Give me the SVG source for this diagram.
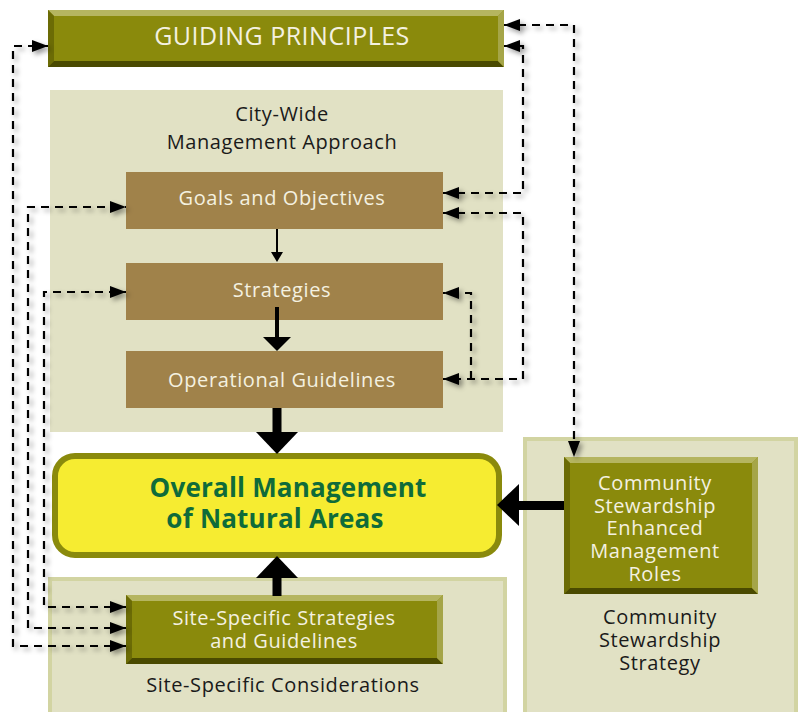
<svg xmlns="http://www.w3.org/2000/svg" width="802" height="712" viewBox="0 0 802 712">
<defs>
<style>
.panel{fill:#e1e1c4}
.panelb{fill:#e1e1c4;stroke:#d2d4a2;stroke-width:4}
.brown{fill:#a0824a}
.olive{fill:#8a8a0c}
.bl{fill:#b5b560}
.bd{fill:#4a4a00}
.bdl{fill:#6b6b05}
.br{fill:#a5a548}
.wt{font-family:"Open Sans","DejaVu Sans",sans-serif;fill:#f4f1e0;text-anchor:middle;font-size:20px;letter-spacing:0.6px}
.dt{font-family:"Open Sans","DejaVu Sans",sans-serif;fill:#1a1a1a;text-anchor:middle;font-size:20px;letter-spacing:0.6px}
.gt{font-family:"Open Sans","DejaVu Sans",sans-serif;font-weight:bold;fill:#0f6b3a;text-anchor:middle;font-size:26px;letter-spacing:0.2px}
.dash{fill:none;stroke:#000;stroke-width:2.2;stroke-dasharray:8 6;marker-end:url(#ah)}
</style>
<marker id="ah" markerUnits="userSpaceOnUse" markerWidth="16" markerHeight="12" refX="16" refY="6" orient="auto-start-reverse"><path d="M0,0 L16,6 L0,12 z" fill="#000"/></marker>
<filter id="sh" x="-10%" y="-10%" width="130%" height="130%"><feDropShadow dx="3" dy="3" stdDeviation="2.5" flood-color="#000" flood-opacity="0.4"/></filter>
</defs>
<rect width="802" height="712" fill="#fff"/>

<g id="guiding-principles">
<rect x="48" y="10" width="456" height="57" class="olive"/>
<polygon points="48,10 504,10 498,16 54,16" class="bl"/>
<polygon points="48,10 54,16 54,61 48,67" class="bdl"/>
<polygon points="48,67 54,61 498,61 504,67" class="bd"/>
<polygon points="504,10 504,67 498,61 498,16" class="br"/>
<text x="282" y="45" class="wt" style="font-size:25px;letter-spacing:0.5px">GUIDING PRINCIPLES</text>
</g>

<g id="city-wide-panel">
<rect x="50" y="90" width="453" height="342" class="panel"/>
<text x="282" y="121" class="dt">City-Wide</text>
<text x="282" y="149" class="dt">Management Approach</text>
</g>

<g id="goals">
<rect x="126" y="172" width="317" height="57" class="brown"/>
<text x="282" y="205" class="wt">Goals and Objectives</text>
</g>
<g id="strategies">
<rect x="126" y="263" width="317" height="57" class="brown"/>
<text x="282" y="297" class="wt">Strategies</text>
</g>
<g id="operational">
<rect x="126" y="351" width="317" height="57" class="brown"/>
<text x="282" y="387" class="wt">Operational Guidelines</text>
</g>

<g id="site-panel">
<rect x="50" y="579" width="455" height="140" class="panelb"/>
<text x="283" y="692" class="dt">Site-Specific Considerations</text>
</g>

<g id="community-panel">
<rect x="525" y="439" width="271" height="280" class="panelb"/>
<text x="660" y="624" class="dt">Community</text>
<text x="660" y="647" class="dt">Stewardship</text>
<text x="660" y="670" class="dt">Strategy</text>
</g>

<g id="overall">
<rect x="55" y="456" width="444" height="99" rx="20" fill="#f6ec31" stroke="#8a8a0c" stroke-width="6"/>
<text x="288" y="497" class="gt">Overall Management</text>
<text x="275" y="528" class="gt">of Natural Areas</text>
</g>

<g id="site-specific">
<rect x="126" y="595" width="317" height="69" class="olive"/>
<polygon points="126,595 443,595 437,601 132,601" class="bl"/>
<polygon points="126,595 132,601 132,658 126,664" class="bdl"/>
<polygon points="126,664 132,658 437,658 443,664" class="bd"/>
<polygon points="443,595 443,664 437,658 437,601" class="br"/>
<text x="284" y="625" class="wt">Site-Specific Strategies</text>
<text x="284" y="648" class="wt">and Guidelines</text>
</g>

<g id="community">
<rect x="564" y="457" width="194" height="137" class="olive"/>
<polygon points="564,457 758,457 752,463 570,463" class="bl"/>
<polygon points="564,457 570,463 570,588 564,594" class="bdl"/>
<polygon points="564,594 570,588 752,588 758,594" class="bd"/>
<polygon points="758,457 758,594 752,588 752,463" class="br"/>
<text x="655" y="490" class="wt">Community</text>
<text x="655" y="513" class="wt">Stewardship</text>
<text x="655" y="535" class="wt">Enhanced</text>
<text x="655" y="558" class="wt">Management</text>
<text x="655" y="581" class="wt">Roles</text>
</g>

<g id="connectors">
<g fill="#000">
<rect x="276" y="229" width="2" height="24"/>
<polygon points="271,252 283,252 277,262"/>
<rect x="275" y="307" width="4" height="31"/>
<polygon points="263,337 291,337 277,351"/>
<rect x="272.5" y="408" width="9" height="25"/>
<polygon points="256,432 298,432 277,454"/>
<rect x="272.5" y="576" width="9" height="20"/>
<polygon points="256,578 298,578 277,556"/>
<rect x="518" y="501" width="46" height="9"/>
<polygon points="519,484 519,526 497,505"/>
</g>
<g filter="url(#sh)">
<path class="dash" style="marker-start:url(#ah)" d="M126,646 H13 V46 H48"/>
<path class="dash" style="marker-start:url(#ah)" d="M126,628 H28 V207 H126"/>
<path class="dash" style="marker-start:url(#ah)" d="M126,607 H44 V292 H126"/>
<path class="dash" style="marker-start:url(#ah)" d="M504,25 H574 V457"/>
<path class="dash" style="marker-start:url(#ah)" d="M504,46 H523 V193 H443"/>
<path class="dash" style="marker-start:url(#ah)" d="M443,213 H523 V379 H443"/>
<path class="dash" d="M471,379 V293 H443"/>
</g>
</g>
</svg>
